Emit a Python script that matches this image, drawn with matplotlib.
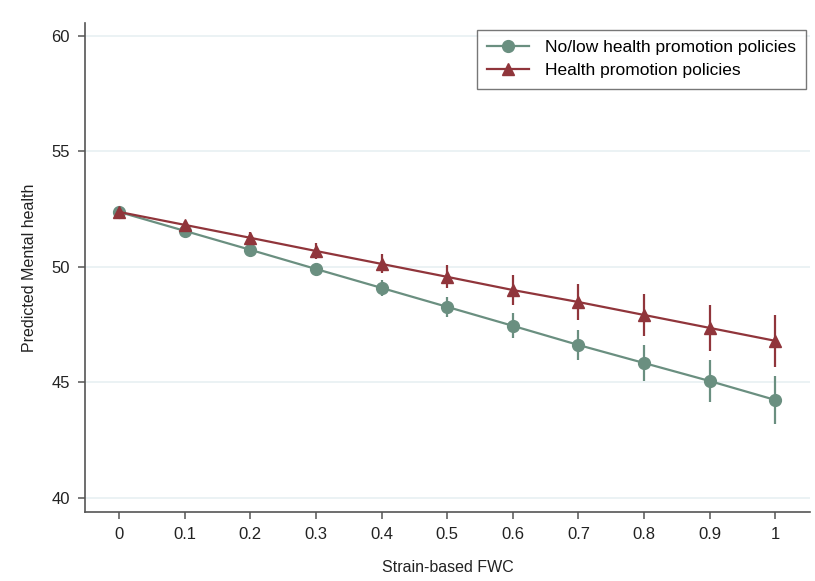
import numpy as np
import matplotlib.pyplot as plt
from matplotlib.lines import Line2D

plt.rcParams['font.family'] = ['Liberation Sans', 'DejaVu Sans']

# Datos
fwc = [0, 0.1, 0.2, 0.3, 0.4, 0.5, 0.6, 0.7, 0.8, 0.9, 1]
xLab = ["0", "0.1", "0.2", "0.3", "0.4", "0.5", "0.6", "0.7", "0.8", "0.9", "1"]

salBaj = [52.38, 51.56, 50.74, 49.91, 49.09, 48.27, 47.45, 46.62, 45.84, 45.06, 44.24]
errBaj = [0.10, 0.15, 0.20, 0.28, 0.36, 0.44, 0.54, 0.66, 0.78, 0.91, 1.02]

salPol = [52.38, 51.82, 51.26, 50.69, 50.13, 49.57, 49.00, 48.48, 47.92, 47.36, 46.80]
errPol = [0.12, 0.18, 0.25, 0.33, 0.41, 0.50, 0.64, 0.76, 0.89, 1.00, 1.12]

yTic = [40, 45, 50, 55, 60]

colVer = '#6a8f80'
colRoj = '#90353b'
labBaj = 'No/low health promotion policies'
labPol = 'Health promotion policies'

fig = plt.figure(figsize=(8.15, 5.81), dpi=100)
ax = fig.add_axes([0.1043, 0.1188, 0.8896, 0.8416])

for y in yTic:
    ax.axhline(y, color='#e8f0f2', linewidth=1.2, zorder=0)

ax.errorbar(fwc, salBaj, yerr=errBaj, color=colVer, marker='o', markersize=8.5,
            linewidth=1.6, elinewidth=1.6, capsize=0, zorder=3)
ax.errorbar(fwc, salPol, yerr=errPol, color=colRoj, marker='^', markersize=9,
            linewidth=1.6, elinewidth=1.6, capsize=0, zorder=4)

ax.set_xlim(-0.052, 1.053)
ax.set_ylim(39.39, 60.56)
ax.set_xticks(fwc)
ax.set_xticklabels(xLab)
ax.set_yticks(yTic)

for lad in ['top', 'right']:
    ax.spines[lad].set_visible(False)
for lad in ['left', 'bottom']:
    ax.spines[lad].set_color('#555555')
    ax.spines[lad].set_linewidth(1.2)

ax.tick_params(axis='both', direction='out', length=5, width=1.1, color='#555555',
               labelsize=12, labelcolor='#222222', pad=6)

ax.set_xlabel('Strain-based FWC', fontsize=11.5, color='#222222', labelpad=13)
ax.set_ylabel('Predicted Mental health', fontsize=11.5, color='#222222', labelpad=10)

manLey = [Line2D([], [], color=colVer, marker='o', markersize=8.5, linewidth=1.6),
          Line2D([], [], color=colRoj, marker='^', markersize=9, linewidth=1.6)]
ley = ax.legend(manLey, [labBaj, labPol], loc='upper right', bbox_to_anchor=(0.9945, 0.986),
                borderaxespad=0, fontsize=12.5, frameon=True, fancybox=False,
                edgecolor='#555555', handlelength=2.4, borderpad=0.6,
                labelspacing=0.45, handletextpad=0.9)
ley.get_frame().set_linewidth(1.0)

fig.savefig('out.png', dpi=100)
